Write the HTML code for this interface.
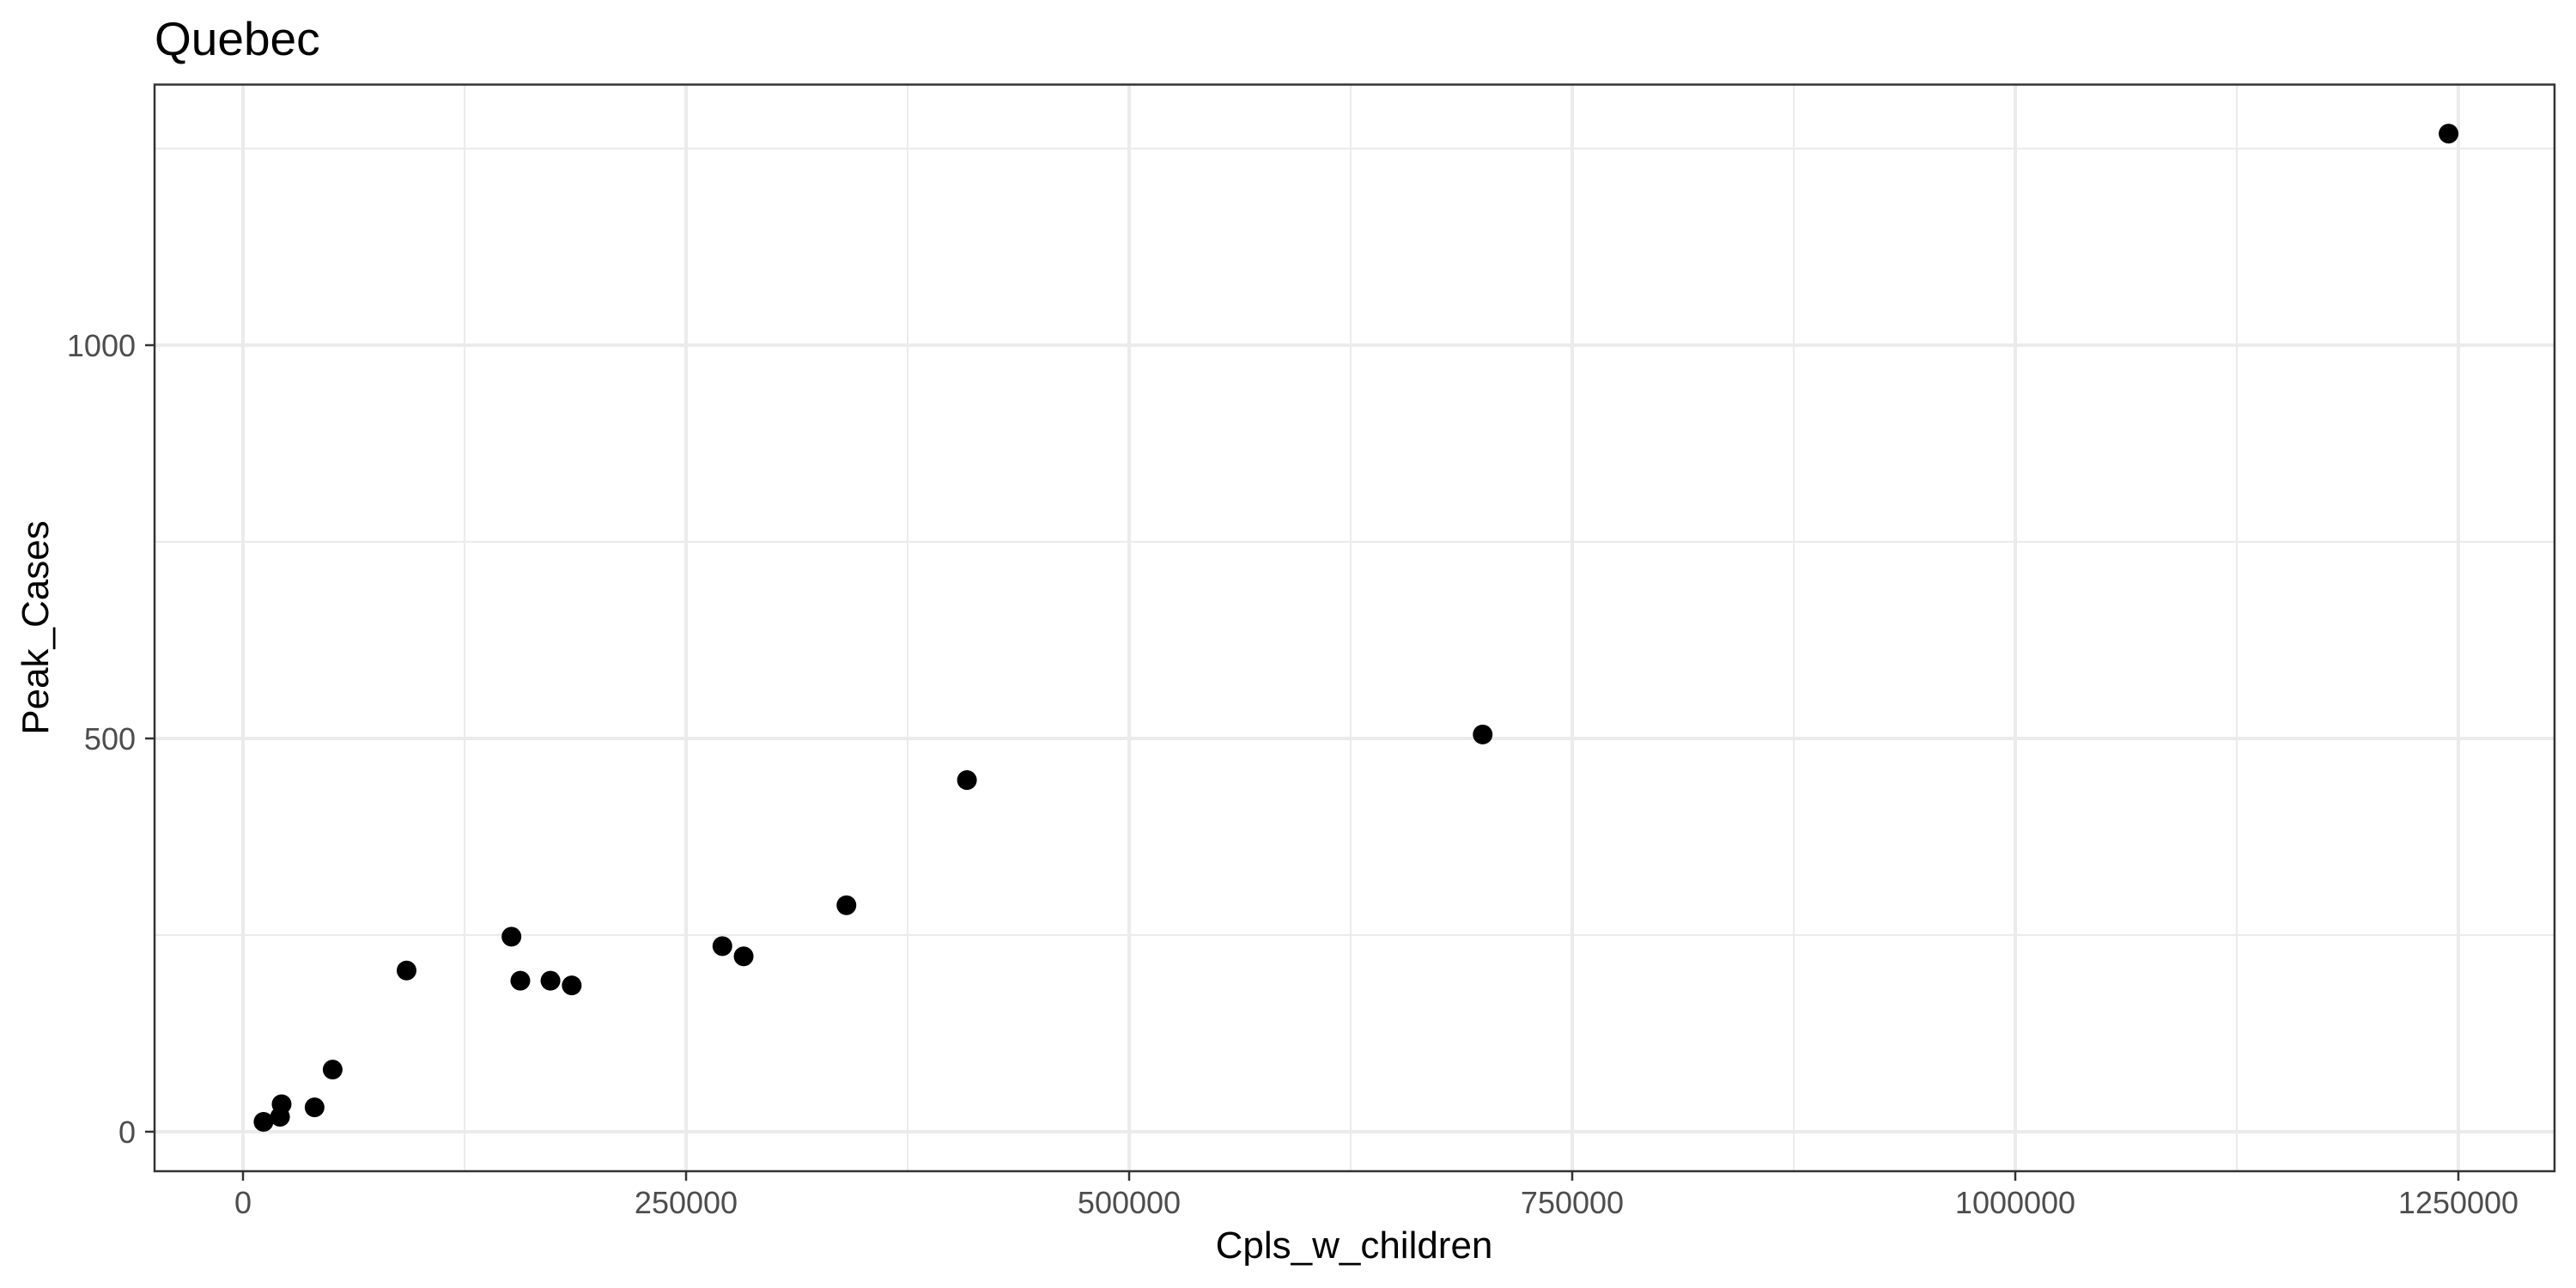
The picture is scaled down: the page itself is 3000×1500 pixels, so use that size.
<!DOCTYPE html>
<html><head><meta charset="utf-8"><style>
html,body{margin:0;padding:0;background:#fff;}
svg{display:block;font-family:"Liberation Sans",Arial,sans-serif;}
</style></head><body>
<svg id="chart" width="3000" height="1500" viewBox="0 0 3000 1500">
<rect width="3000" height="1500" fill="#fff"/>
<text x="180" y="64" font-size="55" fill="#000">Quebec</text>
<g id="grid"></g>
<g id="points"></g>
<rect x="180" y="98.5" width="2795" height="1265.5" fill="none" stroke="#333" stroke-width="2.5"/>
<g id="axes"></g>
<text x="1577" y="1465" font-size="44" text-anchor="middle" fill="#000">Cpls_w_children</text>
<text x="0" y="0" font-size="44" text-anchor="middle" fill="#000" transform="translate(56,731) rotate(-90)">Peak_Cases</text>
</svg>
<script>
const xValues = [11100, 20400, 21300, 39900, 50100, 91800, 151000, 156000, 173000, 185000, 270000, 282000, 340000, 408000, 699000, 1244000];
const yValues = [12.5, 19, 35, 31, 79, 205, 248, 192, 192, 186, 236, 223, 288, 447, 505, 1269];
const xTicks = [0, 250000, 500000, 750000, 1000000, 1250000];
const xTickLabels = ["0", "250000", "500000", "750000", "1000000", "1250000"];
const xMinor = [125000, 375000, 625000, 875000, 1125000];
const yTicks = [0, 500, 1000];
const yTickLabels = ["0", "500", "1000"];
const yMinor = [250, 750, 1250];

const NS = "http://www.w3.org/2000/svg";
const L = 180, R = 2975, T = 98.5, B = 1364;
function xs(v){ return 283 + v * 516 / 250000; }
function ys(v){ return 1318 - v * 0.916; }
function mk(tag, attrs, parent){
  const e = document.createElementNS(NS, tag);
  for (const k in attrs) e.setAttribute(k, attrs[k]);
  parent.appendChild(e);
  return e;
}
const grid = document.getElementById('grid');
const axes = document.getElementById('axes');
const pts = document.getElementById('points');
xMinor.forEach(v => {
  const l = mk('line', {x1: xs(v), x2: xs(v), y1: T, y2: B, stroke: '#ebebeb', 'stroke-width': 2}, grid);
  
  
});
yMinor.forEach(v => {
  const l = mk('line', {x1: L, x2: R, y1: ys(v), y2: ys(v), stroke: '#ebebeb', 'stroke-width': 2}, grid);
  
  
});
xTicks.forEach((v, i) => {
  const l = mk('line', {x1: xs(v), x2: xs(v), y1: T, y2: B, stroke: '#ebebeb', 'stroke-width': 4}, grid);
  
  
  const t = mk('line', {x1: xs(v), x2: xs(v), y1: B, y2: B + 11, stroke: '#333', 'stroke-width': 2.5}, axes);
  
  
  const tx = mk('text', {x: xs(v), y: 1413, 'font-size': 36, 'text-anchor': 'middle', fill: '#4d4d4d'}, axes);
  tx.textContent = xTickLabels[i];
  
  
});
yTicks.forEach((v, i) => {
  const l = mk('line', {x1: L, x2: R, y1: ys(v), y2: ys(v), stroke: '#ebebeb', 'stroke-width': 4}, grid);
  
  
  const t = mk('line', {x1: L - 11, x2: L, y1: ys(v), y2: ys(v), stroke: '#333', 'stroke-width': 2.5}, axes);
  
  
  const tx = mk('text', {x: 158, y: ys(v) + 13, 'font-size': 36, 'text-anchor': 'end', fill: '#4d4d4d'}, axes);
  tx.textContent = yTickLabels[i];
  
  
});
xValues.forEach((v, i) => {
  const c = mk('circle', {cx: xs(v) + 1, cy: ys(yValues[i]), r: 11.5, fill: '#000'}, pts);
  
  
});
</script>
</body></html>
